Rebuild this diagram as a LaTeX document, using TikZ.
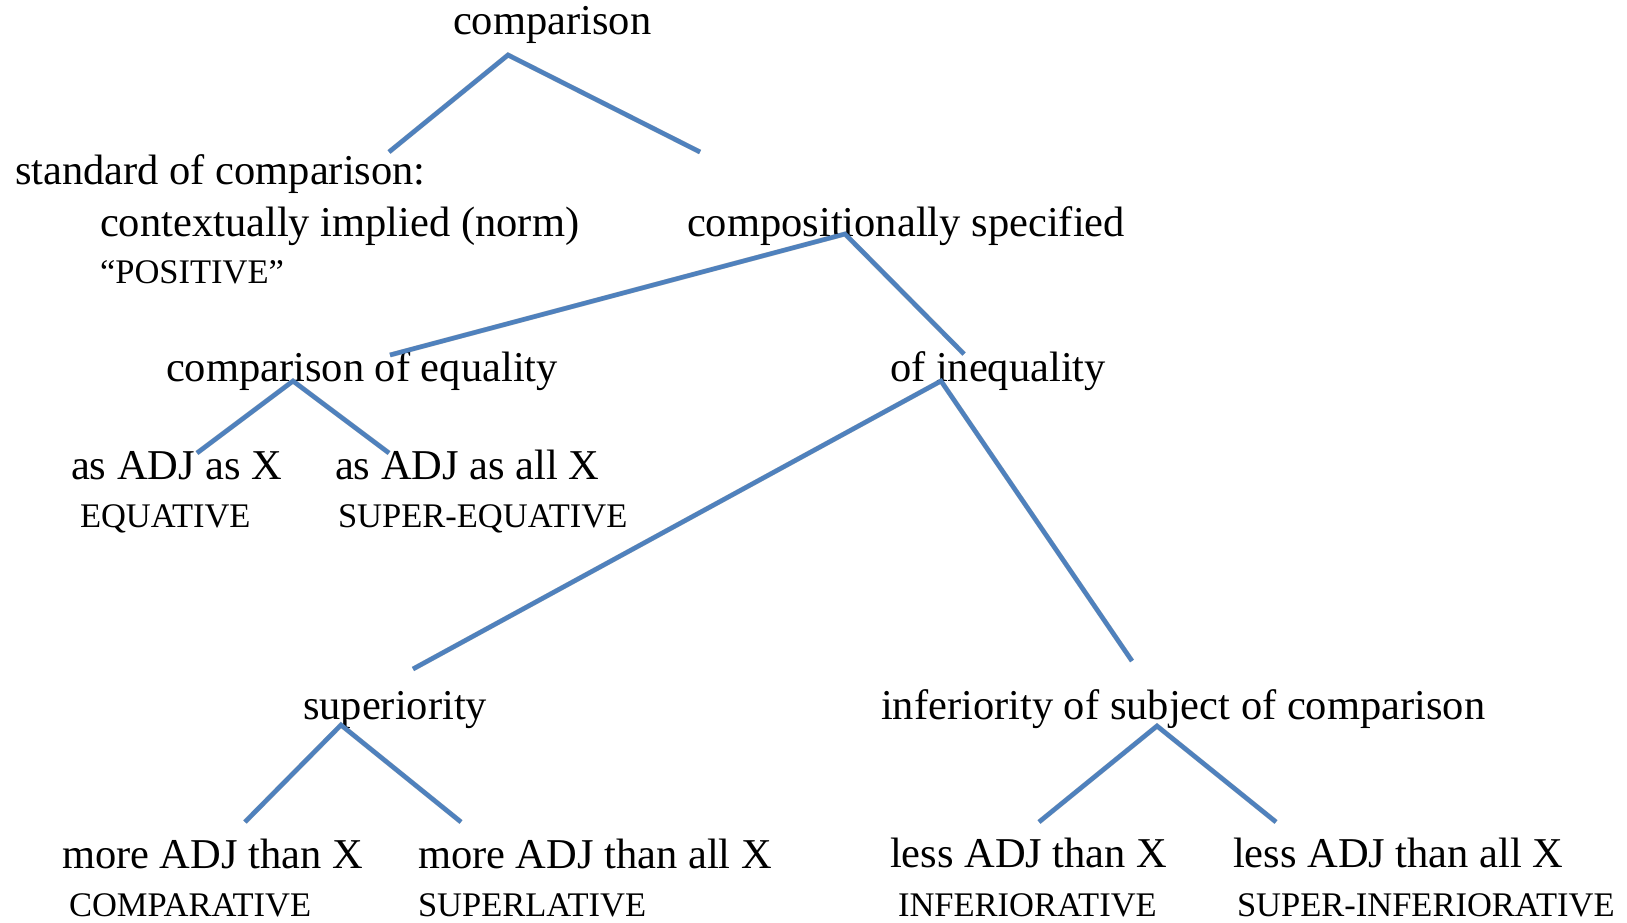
\documentclass[tikz,border=0pt]{standalone}
\usepackage{fontspec}
\setmainfont{Liberation Serif}
\definecolor{lineblue}{HTML}{4F81BD}
\newcommand\mainsz{\fontsize{42.5pt}{50pt}\selectfont}
\newcommand\capsz{\fontsize{34.5pt}{40pt}\selectfont}
\tikzset{
  lbl/.style={anchor=base west, inner sep=0pt, outer sep=0pt, font=\mainsz},
  caplbl/.style={anchor=base west, inner sep=0pt, outer sep=0pt, font=\capsz},
  branch/.style={draw=lineblue, line width=4.5pt, line cap=butt},
  branchshadow/.style={draw=black, opacity=0.22, line width=5pt, line cap=butt, shift={(2.5,3)}},
}
\begin{document}
\begin{tikzpicture}[x=1pt,y=-1pt]
\useasboundingbox (0,0) rectangle (1627,923);
% texts
\node[lbl] (root) at (453,35) {comparison};
\node[lbl] (std)  at (15,184) {standard of comparison:};
\node[lbl] (ctx)  at (100,236) {contextually implied (norm)};
\node[caplbl] (pos)  at (100,283) {“POSITIVE”};
\node[lbl] (comp) at (687,236) {compositionally specified};
\node[lbl] (eq)   at (166,381) {comparison of equality};
\node[lbl] (ineq) at (890,381) {of inequality};
\node[lbl] (eqA)  at (71,479) {as ADJ as X};
\node[lbl] (eqB)  at (335,479) {as ADJ as all X};
\node[caplbl] (eqAc) at (80,527) {EQUATIVE};
\node[caplbl] (eqBc) at (338,527) {SUPER-EQUATIVE};
\node[lbl] (sup)  at (303,719) {superiority};
\node[lbl] (inf)  at (881,719) {inferiority of subject of comparison};
\node[lbl] (supA) at (62,868) {more ADJ than X};
\node[lbl] (supB) at (418,868) {more ADJ than all X};
\node[caplbl] (supAc) at (69,916) {COMPARATIVE};
\node[caplbl] (supBc) at (418,916) {SUPERLATIVE};
\node[lbl] (infA) at (890,867) {less ADJ than X};
\node[lbl] (infB) at (1233,867) {less ADJ than all X};
\node[caplbl] (infAc) at (898,916) {INFERIORATIVE};
\node[caplbl] (infBc) at (1237,916) {SUPER-INFERIORATIVE};
% branch points
\coordinate (r0) at (508,55);  \coordinate (r0L) at (389,152); \coordinate (r0R) at (700,152);
\coordinate (r1) at (845,234); \coordinate (r1L) at (390,355); \coordinate (r1R) at (964,354);
\coordinate (r2) at (293,381); \coordinate (r2L) at (197,453); \coordinate (r2R) at (389,453);
\coordinate (r3) at (941,381); \coordinate (r3L) at (413,669); \coordinate (r3R) at (1132,661);
\coordinate (r4) at (341,725); \coordinate (r4L) at (245,822); \coordinate (r4R) at (461,822);
\coordinate (r5) at (1157,726); \coordinate (r5L) at (1039,822); \coordinate (r5R) at (1276,822);
% shadows
\foreach \i in {0,...,5}{
  \draw[branchshadow] (r\i L) -- (r\i) -- (r\i R);
}
% branches
\foreach \i in {0,...,5}{
  \draw[branch] (r\i L) -- (r\i) -- (r\i R);
}
\end{tikzpicture}
\end{document}
